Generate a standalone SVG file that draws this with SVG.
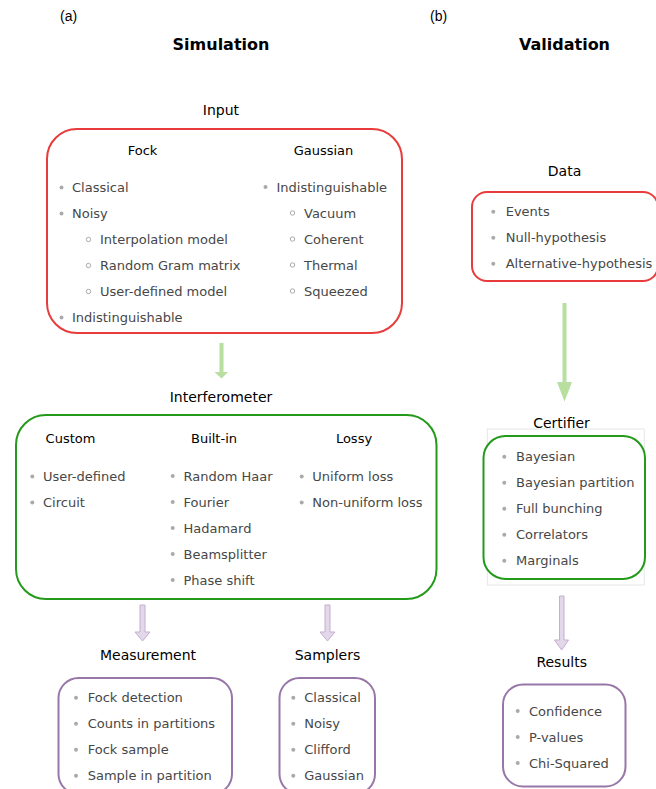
<svg xmlns="http://www.w3.org/2000/svg" width="656" height="789" viewBox="0 0 656 789">
<defs>
<style>
text{font-family:"DejaVu Sans","Verdana",sans-serif;}
.lbl{font-family:"Liberation Sans",Arial,sans-serif;font-size:14px;fill:#000;}
.title{font-size:16px;font-weight:bold;fill:#000;text-anchor:middle;}
.head{font-size:14px;fill:#000;text-anchor:middle;}
.sub{font-size:13px;fill:#000;text-anchor:middle;}
.item{font-size:13px;fill:#474747;}
.b1{fill:#aaaaaa;}
.b2{fill:none;stroke:#aaaaaa;stroke-width:1;}
.red{fill:#fff;stroke:#e83c3c;stroke-width:2;}
.green{fill:#fff;stroke:#249a1a;stroke-width:2;}
.purple{fill:#fff;stroke:#9877a8;stroke-width:2;}
.ga{fill:#b8dea0;stroke:none;}
.pa{fill:#e3d7ea;stroke:#c3afce;stroke-width:1;}
</style>
</defs>
<rect width="656" height="789" fill="#fff"/>

<text class="lbl" x="60" y="21">(a)</text>
<text class="lbl" x="430" y="21">(b)</text>
<text class="title" x="221" y="50">Simulation</text>
<text class="title" x="564.5" y="50">Validation</text>

<g id="connectors">
<path class="ga" d="M219.5,343 H223.5 V372 H228 L221.5,378.5 L214.5,372 H219.5 Z"/>
<path class="ga" d="M562.5,303 H566.5 V382 H572 L564.5,401.5 L557,382 H562.5 Z"/>
<path class="pa" d="M140,605 H145 V632 H150 L142.5,641 L135,632 H140 Z"/>
<path class="pa" d="M325,605 H330 V632 H335 L327.5,641 L320,632 H325 Z"/>
<path class="pa" d="M559.5,596 H564 V640 H568.5 L561.7,650 L554.5,640 H559.5 Z"/>
</g>

<g id="input">
<text class="head" x="221" y="115">Input</text>
<rect class="red" x="47" y="129" width="355" height="204" rx="30"/>
<text class="sub" x="142.5" y="155">Fock</text>
<text class="sub" x="323.5" y="155">Gaussian</text>
<circle class="b1" cx="61.5" cy="187.5" r="2"/><text class="item" x="72" y="192">Classical</text>
<circle class="b1" cx="61.5" cy="213.5" r="2"/><text class="item" x="72" y="218">Noisy</text>
<circle class="b2" cx="88.5" cy="239.5" r="2.2"/><text class="item" x="100" y="244">Interpolation model</text>
<circle class="b2" cx="88.5" cy="265.5" r="2.2"/><text class="item" x="100" y="270">Random Gram matrix</text>
<circle class="b2" cx="88.5" cy="291.5" r="2.2"/><text class="item" x="100" y="296">User-defined model</text>
<circle class="b1" cx="61.5" cy="317.5" r="2"/><text class="item" x="72" y="322">Indistinguishable</text>
<circle class="b1" cx="265.5" cy="187" r="2"/><text class="item" x="276.5" y="191.5">Indistinguishable</text>
<circle class="b2" cx="292.5" cy="213" r="2.2"/><text class="item" x="304" y="217.5">Vacuum</text>
<circle class="b2" cx="292.5" cy="239" r="2.2"/><text class="item" x="304" y="243.5">Coherent</text>
<circle class="b2" cx="292.5" cy="265" r="2.2"/><text class="item" x="304" y="269.5">Thermal</text>
<circle class="b2" cx="292.5" cy="291" r="2.2"/><text class="item" x="304" y="295.5">Squeezed</text>
</g>

<g id="interferometer">
<text class="head" x="221" y="401.5">Interferometer</text>
<rect class="green" x="16" y="415" width="420.5" height="184" rx="30"/>
<text class="sub" x="70.5" y="442.5">Custom</text>
<text class="sub" x="214" y="442.5">Built-in</text>
<text class="sub" x="354" y="442.5">Lossy</text>
<circle class="b1" cx="32.3" cy="476.5" r="2"/><text class="item" x="43" y="481">User-defined</text>
<circle class="b1" cx="32.3" cy="502.5" r="2"/><text class="item" x="43" y="507">Circuit</text>
<circle class="b1" cx="172.7" cy="476" r="2"/><text class="item" x="183.5" y="480.5">Random Haar</text>
<circle class="b1" cx="172.7" cy="502" r="2"/><text class="item" x="183.5" y="506.5">Fourier</text>
<circle class="b1" cx="172.7" cy="528" r="2"/><text class="item" x="183.5" y="532.5">Hadamard</text>
<circle class="b1" cx="172.7" cy="554" r="2"/><text class="item" x="183.5" y="558.5">Beamsplitter</text>
<circle class="b1" cx="172.7" cy="580" r="2"/><text class="item" x="183.5" y="584.5">Phase shift</text>
<circle class="b1" cx="301.7" cy="476.5" r="2"/><text class="item" x="312.3" y="481">Uniform loss</text>
<circle class="b1" cx="301.7" cy="502.5" r="2"/><text class="item" x="312.3" y="507">Non-uniform loss</text>
</g>

<g id="measurement">
<text class="head" x="148" y="660">Measurement</text>
<rect class="purple" x="58.5" y="678" width="173.5" height="116" rx="20"/>
<circle class="b1" cx="76" cy="697.7" r="2"/><text class="item" x="87.7" y="702.2">Fock detection</text>
<circle class="b1" cx="76" cy="723.7" r="2"/><text class="item" x="87.7" y="728.2">Counts in partitions</text>
<circle class="b1" cx="76" cy="749.7" r="2"/><text class="item" x="87.7" y="754.2">Fock sample</text>
<circle class="b1" cx="76" cy="775.7" r="2"/><text class="item" x="87.7" y="780.2">Sample in partition</text>
</g>

<g id="samplers">
<text class="head" x="327.5" y="660">Samplers</text>
<rect class="purple" x="279.5" y="678" width="95.5" height="116" rx="20"/>
<circle class="b1" cx="293.3" cy="697.7" r="2"/><text class="item" x="304.3" y="702.2">Classical</text>
<circle class="b1" cx="293.3" cy="723.7" r="2"/><text class="item" x="304.3" y="728.2">Noisy</text>
<circle class="b1" cx="293.3" cy="749.7" r="2"/><text class="item" x="304.3" y="754.2">Clifford</text>
<circle class="b1" cx="293.3" cy="775.7" r="2"/><text class="item" x="304.3" y="780.2">Gaussian</text>
</g>

<g id="data">
<text class="head" x="564.5" y="176">Data</text>
<rect class="red" x="472" y="192" width="186" height="89" rx="15"/>
<circle class="b1" cx="493.3" cy="211.7" r="2"/><text class="item" x="505.7" y="216.2">Events</text>
<circle class="b1" cx="493.3" cy="237.7" r="2"/><text class="item" x="505.7" y="242.2">Null-hypothesis</text>
<circle class="b1" cx="493.3" cy="263.7" r="2"/><text class="item" x="505.7" y="268.2">Alternative-hypothesis</text>
</g>

<g id="certifier">
<text class="head" x="561.5" y="428.3">Certifier</text>
<rect x="487.3" y="429" width="157" height="156" fill="none" stroke="#e4e8e6" stroke-width="1"/>
<rect class="green" x="483.5" y="436" width="161.5" height="143" rx="22"/>
<circle class="b1" cx="504.3" cy="456.7" r="2"/><text class="item" x="516" y="461.2">Bayesian</text>
<circle class="b1" cx="504.3" cy="482.7" r="2"/><text class="item" x="516" y="487.2">Bayesian partition</text>
<circle class="b1" cx="504.3" cy="508.7" r="2"/><text class="item" x="516" y="513.2">Full bunching</text>
<circle class="b1" cx="504.3" cy="534.7" r="2"/><text class="item" x="516" y="539.2">Correlators</text>
<circle class="b1" cx="504.3" cy="560.7" r="2"/><text class="item" x="516" y="565.2">Marginals</text>
</g>

<g id="results">
<text class="head" x="561.7" y="667.3">Results</text>
<rect class="purple" x="503" y="684.5" width="122.5" height="102" rx="20"/>
<circle class="b1" cx="517.7" cy="711" r="2"/><text class="item" x="529" y="715.5">Confidence</text>
<circle class="b1" cx="517.7" cy="737" r="2"/><text class="item" x="529" y="741.5">P-values</text>
<circle class="b1" cx="517.7" cy="763" r="2"/><text class="item" x="529" y="767.5">Chi-Squared</text>
</g>
</svg>
